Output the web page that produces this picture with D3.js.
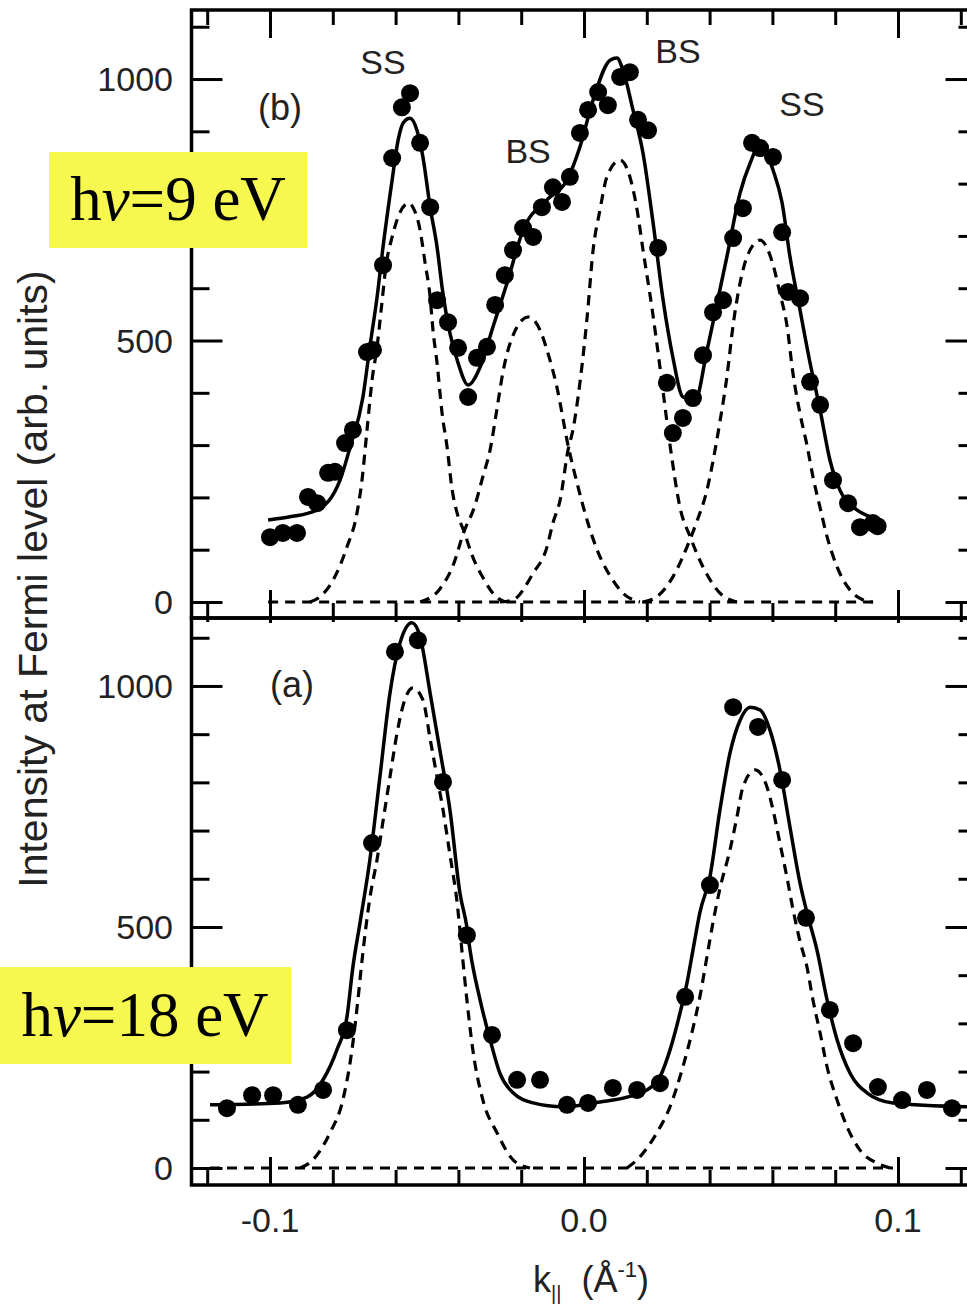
<!DOCTYPE html>
<html><head><meta charset="utf-8">
<script src="https://cdn.jsdelivr.net/npm/d3@7"></script>
<style>body{margin:0;background:#fff}</style>
</head><body><svg id="c" width="967" height="1307"></svg>
<script>
// ---------- ticks ----------
const kMajor = [-0.1, 0, 0.1];
const kMinor = [-0.12, -0.08, -0.06, -0.04, -0.02, 0.02, 0.04, 0.06, 0.08, 0.12];
const xTickLabels = ["-0.1", "0.0", "0.1"];
const vMajor = [0, 500, 1000];
const vMinor = [100, 200, 300, 400, 600, 700, 800, 900, 1100];
const yTickLabels = ["0", "500", "1000"];

// ---------- panel (b) hv = 9 eV : measured points [k, intensity] ----------
const topPoints = [[-0.1000,124],[-0.0959,132],[-0.0914,132],[-0.0879,201],[-0.0850,189],[-0.0815,247],[-0.0793,249],[-0.0761,304],[-0.0736,329],[-0.0691,478],[-0.0672,482],[-0.0640,644],[-0.0611,849],[-0.0580,946],[-0.0554,973],[-0.0522,878],[-0.0490,755],[-0.0468,577],[-0.0433,535],[-0.0401,486],[-0.0369,392],[-0.0341,467],[-0.0309,488],[-0.0283,568],[-0.0252,625],[-0.0226,673],[-0.0194,715],[-0.0162,698],[-0.0134,755],[-0.0099,793],[-0.0070,765],[-0.0045,813],[-0.0013,897],[0.0013,941],[0.0045,975],[0.0076,950],[0.0115,1004],[0.0146,1013],[0.0172,922],[0.0204,902],[0.0236,677],[0.0264,419],[0.0283,323],[0.0315,352],[0.0347,390],[0.0379,472],[0.0411,554],[0.0443,577],[0.0475,696],[0.0506,753],[0.0535,878],[0.0561,868],[0.0602,851],[0.0631,707],[0.0650,593],[0.0688,581],[0.0720,421],[0.0752,377],[0.0793,233],[0.0841,189],[0.0879,143],[0.0920,151],[0.0935,145]];
// total fit (solid)
const topFit = [[-0.1006,157],[-0.0936,163],[-0.0850,176],[-0.0777,233],[-0.0745,296],[-0.0704,392],[-0.0682,488],[-0.0659,583],[-0.0640,679],[-0.0611,807],[-0.0592,883],[-0.0576,916],[-0.0554,925],[-0.0532,902],[-0.0513,851],[-0.0490,755],[-0.0468,679],[-0.0452,602],[-0.0427,514],[-0.0401,457],[-0.0369,415],[-0.0331,449],[-0.0290,526],[-0.0245,610],[-0.0194,711],[-0.0118,769],[-0.0054,807],[-0.0013,870],[0.0029,960],[0.0083,1036],[0.0105,1040],[0.0124,1017],[0.0156,941],[0.0188,858],[0.0220,725],[0.0252,577],[0.0283,468],[0.0315,392],[0.0354,386],[0.0392,482],[0.0424,572],[0.0455,660],[0.0497,782],[0.0529,839],[0.0554,868],[0.0576,864],[0.0602,826],[0.0631,763],[0.0656,660],[0.0688,558],[0.0720,457],[0.0752,367],[0.0783,272],[0.0815,214],[0.0857,182],[0.0920,161],[0.0943,157]];
// fit components (dashed)
const topSS1 = [[-0.0873,0],[-0.0841,10],[-0.0799,42],[-0.0755,105],[-0.0723,170],[-0.0707,233],[-0.0691,329],[-0.0675,424],[-0.0659,488],[-0.0645,564],[-0.0631,641],[-0.0611,698],[-0.0586,745],[-0.0557,763],[-0.0545,755],[-0.0522,711],[-0.0506,648],[-0.0490,583],[-0.0481,520],[-0.0468,457],[-0.0452,361],[-0.0436,296],[-0.0420,215],[-0.0404,170],[-0.0382,135],[-0.0357,90],[-0.0325,50],[-0.0280,10],[-0.0252,0]];
const topBS1 = [[-0.0522,0],[-0.0459,25],[-0.0417,70],[-0.0382,135],[-0.0350,180],[-0.0322,240],[-0.0299,291],[-0.0277,370],[-0.0258,440],[-0.0226,510],[-0.0178,545],[-0.0140,520],[-0.0118,482],[-0.0086,410],[-0.0051,300],[-0.0019,220],[0.0013,150],[0.0045,95],[0.0083,50],[0.0124,17],[0.0178,0]];
const topBS2 = [[-0.0268,0],[-0.0226,4],[-0.0162,55],[-0.0118,105],[-0.0099,151],[-0.0076,195],[-0.0051,290],[-0.0035,330],[-0.0013,419],[0.0010,545],[0.0029,673],[0.0051,750],[0.0073,813],[0.0115,845],[0.0146,813],[0.0169,750],[0.0188,673],[0.0217,560],[0.0242,449],[0.0274,300],[0.0306,180],[0.0338,125],[0.0379,67],[0.0433,17],[0.0487,0]];
const topSS2 = [[0.0188,0],[0.0232,10],[0.0283,48],[0.0338,120],[0.0360,155],[0.0392,215],[0.0411,270],[0.0433,345],[0.0455,430],[0.0475,530],[0.0497,610],[0.0519,660],[0.0561,692],[0.0602,645],[0.0624,590],[0.0646,530],[0.0666,435],[0.0688,360],[0.0710,300],[0.0729,240],[0.0752,180],[0.0774,125],[0.0806,67],[0.0847,23],[0.0889,4],[0.0920,0]];
const topBase = [[-0.1006,0],[0.0929,0]];

// ---------- panel (a) hv = 18 eV ----------
const botPoints = [[-0.1137,124],[-0.1057,151],[-0.0990,151],[-0.0911,131],[-0.0831,162],[-0.0755,286],[-0.0675,674],[-0.0602,1071],[-0.0529,1095],[-0.0449,801],[-0.0373,483],[-0.0293,276],[-0.0213,183],[-0.0140,183],[-0.0054,131],[0.0013,135],[0.0092,166],[0.0169,162],[0.0242,176],[0.0322,355],[0.0401,587],[0.0475,956],[0.0554,915],[0.0631,805],[0.0707,519],[0.0783,328],[0.0857,259],[0.0936,168],[0.1013,141],[0.1092,162],[0.1172,124]];
const botFit = [[-0.1191,131],[-0.0968,135],[-0.0882,147],[-0.0831,183],[-0.0787,245],[-0.0755,313],[-0.0736,417],[-0.0713,510],[-0.0682,639],[-0.0650,811],[-0.0618,985],[-0.0586,1089],[-0.0548,1131],[-0.0522,1102],[-0.0490,985],[-0.0459,867],[-0.0427,743],[-0.0395,570],[-0.0373,500],[-0.0363,452],[-0.0331,349],[-0.0299,266],[-0.0268,197],[-0.0226,156],[-0.0162,135],[-0.0067,127],[0.0051,137],[0.0137,147],[0.0201,162],[0.0242,189],[0.0274,245],[0.0306,322],[0.0328,384],[0.0347,452],[0.0369,530],[0.0401,604],[0.0433,743],[0.0465,861],[0.0497,929],[0.0529,956],[0.0561,950],[0.0592,909],[0.0624,826],[0.0656,707],[0.0688,591],[0.0710,530],[0.0742,452],[0.0774,349],[0.0806,266],[0.0847,197],[0.0901,156],[0.0984,135],[0.1220,127]];
const botSS1 = [[-0.0904,0],[-0.0863,17],[-0.0809,73],[-0.0768,141],[-0.0739,245],[-0.0720,349],[-0.0707,430],[-0.0682,560],[-0.0659,640],[-0.0640,720],[-0.0618,811],[-0.0596,900],[-0.0576,960],[-0.0545,996],[-0.0513,971],[-0.0490,890],[-0.0468,811],[-0.0449,743],[-0.0427,650],[-0.0404,550],[-0.0389,452],[-0.0373,349],[-0.0354,245],[-0.0322,141],[-0.0277,73],[-0.0226,17],[-0.0172,0]];
const botSS2 = [[0.0137,0],[0.0178,23],[0.0232,73],[0.0274,127],[0.0315,210],[0.0347,290],[0.0369,355],[0.0392,440],[0.0411,510],[0.0433,580],[0.0465,660],[0.0487,728],[0.0506,790],[0.0545,826],[0.0583,790],[0.0602,743],[0.0624,674],[0.0646,604],[0.0666,535],[0.0688,470],[0.0710,417],[0.0729,349],[0.0752,280],[0.0774,210],[0.0806,141],[0.0838,85],[0.0879,37],[0.0933,10],[0.0975,0]];
const botBase = [[-0.1191,0],[0.0984,0]];

// ---------- texts ----------
const peakLabels = [{t:"SS",k:-0.0640,v:1010},{t:"BS",k:-0.0178,v:840},{t:"BS",k:0.0299,v:1030},{t:"SS",k:0.0694,v:930}];
const panelLabels = ["(b)", "(a)"];
const energyLabels = ["9", "18"];
const yTitle = "Intensity at Fermi level (arb. units)";

// ---------- scales ----------
const svg = d3.select("#c");
svg.append("rect").attr("width",967).attr("height",1307).attr("fill","#fff");
const L = 191.5, R = 976.5, MID = 618;
const x = d3.scaleLinear().domain([-0.125, 0.125]).range([L, R]);
const yTop = d3.scaleLinear().domain([-30.6, 1132]).range([MID, 10]);
const yBot = d3.scaleLinear().domain([-35.3, 1141]).range([1185, MID]);

const FONT = "'Liberation Sans', Arial, Helvetica, sans-serif";

function styleAxis(g){
  g.select(".domain").remove();
  g.selectAll(".tick line").attr("stroke","#000").attr("stroke-width",3);
  g.selectAll(".tick text").remove();
}
function panel(y, top, bottom, topIn, bottomIn){
  svg.append("rect").attr("x",L).attr("y",top).attr("width",R-L).attr("height",bottom-top)
    .attr("fill","none").attr("stroke","#000").attr("stroke-width",3.5);
  [[kMajor,topIn[0]],[kMinor,topIn[1]]].forEach(([vals,s])=>{
    svg.append("g").attr("transform",`translate(0,${top})`)
      .call(d3.axisBottom(x).tickValues(vals).tickSize(s).tickSizeOuter(0)).call(styleAxis);
  });
  [[kMajor,bottomIn[0]],[kMinor,bottomIn[1]]].forEach(([vals,s])=>{
    svg.append("g").attr("transform",`translate(0,${bottom})`)
      .call(d3.axisTop(x).tickValues(vals).tickSize(s).tickSizeOuter(0)).call(styleAxis);
  });
  [[vMajor,31],[vMinor,18]].forEach(([vals,s])=>{
    svg.append("g").attr("transform",`translate(${L},0)`)
      .call(d3.axisRight(y).tickValues(vals).tickSize(s).tickSizeOuter(0)).call(styleAxis);
    svg.append("g").attr("transform",`translate(${R},0)`)
      .call(d3.axisLeft(y).tickValues(vals).tickSize(s).tickSizeOuter(0)).call(styleAxis);
  });
  vMajor.forEach((v,i)=>{
    svg.append("text").attr("x",173).attr("y",y(v)+12).attr("text-anchor","end")
      .attr("font-family",FONT).attr("font-size",34).attr("fill","#222").text(yTickLabels[i]);
  });
}
panel(yTop, 10, MID, [28,15], [28,15]);
panel(yBot, MID, 1185, [5,4], [28,15]);

kMajor.forEach((k,i)=>{
  svg.append("text").attr("x",x(k)).attr("y",1232).attr("text-anchor","middle")
    .attr("font-family",FONT).attr("font-size",34).attr("fill","#222").text(xTickLabels[i]);
});

// ---------- curves ----------
function drawCurve(data, y, dashed){
  const line = d3.line().x(d=>x(d[0])).y(d=>y(d[1])).curve(d3.curveMonotoneX);
  svg.append("path").attr("d", line(data)).attr("fill","none").attr("stroke","#000")
    .attr("stroke-width", dashed ? 3.2 : 3.5).attr("stroke-dasharray", dashed ? "10,7" : null)
    .attr("stroke-linejoin","round");
}
[topBase, topSS1, topBS1, topBS2, topSS2].forEach(d=>drawCurve(d, yTop, true));
drawCurve(topFit, yTop, false);
[botBase, botSS1, botSS2].forEach(d=>drawCurve(d, yBot, true));
drawCurve(botFit, yBot, false);

function drawPoints(data, y){
  svg.append("g").selectAll("circle").data(data).join("circle")
    .attr("cx", d=>x(d[0])).attr("cy", d=>y(d[1])).attr("r", 9).attr("fill","#000");
}
drawPoints(topPoints, yTop);
drawPoints(botPoints, yBot);

// ---------- labels ----------
peakLabels.forEach(p=>{
  svg.append("text").attr("x",x(p.k)).attr("y",yTop(p.v)).attr("text-anchor","middle")
    .attr("font-family",FONT).attr("font-size",34).attr("fill","#222").text(p.t);
});
svg.append("text").attr("x",280).attr("y",120).attr("text-anchor","middle")
  .attr("font-family",FONT).attr("font-size",36).attr("fill","#222").text(panelLabels[0]);
svg.append("text").attr("x",292).attr("y",697).attr("text-anchor","middle")
  .attr("font-family",FONT).attr("font-size",36).attr("fill","#222").text(panelLabels[1]);

svg.append("text").attr("transform","translate(47,579) rotate(-90)").attr("text-anchor","middle")
  .attr("font-family",FONT).attr("font-size",41).attr("fill","#222").text(yTitle);
const xt = svg.append("text").attr("x",533).attr("y",1292)
  .attr("font-family",FONT).attr("font-size",36).attr("fill","#222");
xt.append("tspan").text("k");
xt.append("tspan").attr("font-size",20).attr("dy",8).text("||");
xt.append("tspan").attr("font-size",36).attr("dy",-8).text("\u00a0\u00a0(Å");
xt.append("tspan").attr("font-size",22).attr("dy",-15).text("-1");
xt.append("tspan").attr("font-size",36).attr("dy",15).text(")");

const boxes = [{x:49,y:152,w:258,h:96,cx:178,by:220},{x:0,y:967,w:291,h:97,cx:145,by:1036}];
boxes.forEach((b,i)=>{
  svg.append("rect").attr("x",b.x).attr("y",b.y).attr("width",b.w).attr("height",b.h).attr("fill","#f6f84f");
  const t = svg.append("text").attr("x",b.cx).attr("y",b.by).attr("text-anchor","middle")
    .attr("font-family","'Liberation Serif','Times New Roman',serif").attr("font-size",63).attr("fill","#000");
  t.append("tspan").text("h");
  t.append("tspan").attr("font-style","italic").text("\u03bd");
  t.append("tspan").text("=" + energyLabels[i] + " eV");
});
</script>
</body></html>
